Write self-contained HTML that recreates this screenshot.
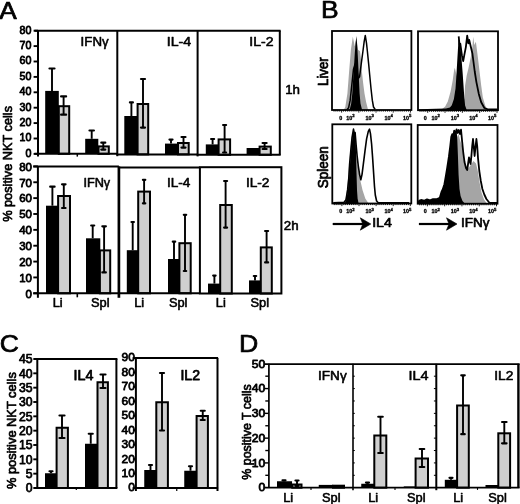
<!DOCTYPE html>
<html lang="en">
<head>
<meta charset="utf-8">
<title>Figure</title>
<style>
html,body{margin:0;padding:0;background:#fff;}
body{width:520px;height:504px;overflow:hidden;}
svg{display:block;}
svg text{font-family:"Liberation Sans",sans-serif;fill:#000;stroke-linejoin:round;}
</style>
</head>
<body>
<svg width="520" height="504" viewBox="0 0 520 504">
<rect x="0" y="0" width="520" height="504" fill="#fff"/>
<text transform="translate(-0.8 18.8) scale(1.07 1)" font-size="24.5" text-anchor="start" font-weight="normal" stroke="#000" stroke-width="0.7">A</text>
<text transform="translate(321.1 17.6) scale(1.08 1)" font-size="24.5" text-anchor="start" font-weight="normal" stroke="#000" stroke-width="0.7">B</text>
<text transform="translate(-0.3 352) scale(1.08 1)" font-size="24.5" text-anchor="start" font-weight="normal" stroke="#000" stroke-width="0.7">C</text>
<text transform="translate(239.0 351.5) scale(1.09 1)" font-size="24.5" text-anchor="start" font-weight="normal" stroke="#000" stroke-width="0.7">D</text>
<rect x="45.20" y="90.90" width="13.60" height="62.90" fill="#000"/>
<line x1="52.00" y1="90.90" x2="52.00" y2="68.50" stroke="#000" stroke-width="1.9"/>
<line x1="49.50" y1="68.50" x2="54.50" y2="68.50" stroke="#000" stroke-width="2.2" stroke-linecap="round"/>
<rect x="58.80" y="106.20" width="10.40" height="47.60" fill="#cfcfcf" stroke="#000" stroke-width="2.0"/>
<line x1="63.60" y1="96.40" x2="63.60" y2="114.70" stroke="#000" stroke-width="1.9"/>
<line x1="61.10" y1="96.40" x2="66.10" y2="96.40" stroke="#000" stroke-width="2.2" stroke-linecap="round"/>
<line x1="61.10" y1="114.70" x2="66.10" y2="114.70" stroke="#000" stroke-width="2.2" stroke-linecap="round"/>
<rect x="85.20" y="138.80" width="13.10" height="15.00" fill="#000"/>
<line x1="91.70" y1="138.80" x2="91.70" y2="130.50" stroke="#000" stroke-width="1.9"/>
<line x1="89.50" y1="130.50" x2="93.90" y2="130.50" stroke="#000" stroke-width="2.2" stroke-linecap="round"/>
<rect x="98.50" y="146.40" width="10.30" height="7.40" fill="#cfcfcf" stroke="#000" stroke-width="2.0"/>
<line x1="103.30" y1="142.70" x2="103.30" y2="149.60" stroke="#000" stroke-width="1.9"/>
<line x1="101.30" y1="142.70" x2="105.30" y2="142.70" stroke="#000" stroke-width="2.2" stroke-linecap="round"/>
<line x1="101.30" y1="149.60" x2="105.30" y2="149.60" stroke="#000" stroke-width="2.2" stroke-linecap="round"/>
<rect x="124.30" y="116.00" width="13.50" height="38.40" fill="#000"/>
<line x1="131.40" y1="116.00" x2="131.40" y2="102.40" stroke="#000" stroke-width="1.9"/>
<line x1="129.90" y1="102.40" x2="132.90" y2="102.40" stroke="#000" stroke-width="2.2" stroke-linecap="round"/>
<rect x="137.60" y="104.00" width="10.60" height="50.40" fill="#cfcfcf" stroke="#000" stroke-width="2.0"/>
<line x1="143.00" y1="79.00" x2="143.00" y2="127.60" stroke="#000" stroke-width="1.9"/>
<line x1="141.00" y1="79.00" x2="145.00" y2="79.00" stroke="#000" stroke-width="2.2" stroke-linecap="round"/>
<line x1="141.00" y1="127.60" x2="145.00" y2="127.60" stroke="#000" stroke-width="2.2" stroke-linecap="round"/>
<rect x="165.00" y="143.60" width="13.20" height="10.80" fill="#000"/>
<line x1="171.00" y1="143.60" x2="171.00" y2="139.60" stroke="#000" stroke-width="1.9"/>
<line x1="169.50" y1="139.60" x2="172.50" y2="139.60" stroke="#000" stroke-width="2.2" stroke-linecap="round"/>
<rect x="178.00" y="143.00" width="10.70" height="11.40" fill="#cfcfcf" stroke="#000" stroke-width="2.0"/>
<line x1="183.50" y1="137.00" x2="183.50" y2="147.60" stroke="#000" stroke-width="1.9"/>
<line x1="181.50" y1="137.00" x2="185.50" y2="137.00" stroke="#000" stroke-width="2.2" stroke-linecap="round"/>
<line x1="181.50" y1="147.60" x2="185.50" y2="147.60" stroke="#000" stroke-width="2.2" stroke-linecap="round"/>
<rect x="205.80" y="144.40" width="13.00" height="10.40" fill="#000"/>
<line x1="212.60" y1="144.40" x2="212.60" y2="139.00" stroke="#000" stroke-width="1.9"/>
<line x1="211.10" y1="139.00" x2="214.10" y2="139.00" stroke="#000" stroke-width="2.2" stroke-linecap="round"/>
<rect x="218.60" y="139.40" width="11.50" height="15.40" fill="#cfcfcf" stroke="#000" stroke-width="2.0"/>
<line x1="224.60" y1="125.00" x2="224.60" y2="152.50" stroke="#000" stroke-width="1.9"/>
<line x1="223.10" y1="125.00" x2="226.10" y2="125.00" stroke="#000" stroke-width="2.2" stroke-linecap="round"/>
<line x1="223.10" y1="152.50" x2="226.10" y2="152.50" stroke="#000" stroke-width="2.2" stroke-linecap="round"/>
<rect x="246.60" y="148.00" width="13.20" height="6.80" fill="#000"/>
<rect x="259.60" y="146.60" width="11.20" height="8.20" fill="#cfcfcf" stroke="#000" stroke-width="2.0"/>
<line x1="264.60" y1="143.00" x2="264.60" y2="149.00" stroke="#000" stroke-width="1.9"/>
<line x1="262.60" y1="143.00" x2="266.60" y2="143.00" stroke="#000" stroke-width="2.2" stroke-linecap="round"/>
<line x1="262.60" y1="149.00" x2="266.60" y2="149.00" stroke="#000" stroke-width="2.2" stroke-linecap="round"/>
<line x1="34.50" y1="30.70" x2="280.60" y2="30.70" stroke="#000" stroke-width="2.0"/>
<line x1="34.50" y1="153.80" x2="117.30" y2="153.80" stroke="#000" stroke-width="2.0"/>
<line x1="116.40" y1="154.40" x2="197.60" y2="154.40" stroke="#000" stroke-width="2.0"/>
<line x1="196.70" y1="154.80" x2="280.70" y2="154.80" stroke="#000" stroke-width="2.0"/>
<line x1="38.00" y1="30.70" x2="38.00" y2="156.40" stroke="#000" stroke-width="2.0"/>
<line x1="117.30" y1="30.70" x2="117.30" y2="156.20" stroke="#000" stroke-width="2.0"/>
<line x1="197.60" y1="30.70" x2="197.60" y2="156.40" stroke="#000" stroke-width="2.0"/>
<line x1="279.80" y1="30.70" x2="279.80" y2="154.80" stroke="#000" stroke-width="2.0"/>
<line x1="77.30" y1="153.80" x2="77.30" y2="156.60" stroke="#000" stroke-width="1.5"/>
<text transform="translate(31.5 33.5) scale(1.07 1)" font-size="9.999999999999998" text-anchor="end" font-weight="normal" stroke="#000" stroke-width="0.75">80</text>
<line x1="33.60" y1="30.70" x2="38.00" y2="30.70" stroke="#000" stroke-width="1.9"/>
<text transform="translate(31.5 48.9) scale(1.07 1)" font-size="9.999999999999998" text-anchor="end" font-weight="normal" stroke="#000" stroke-width="0.75">70</text>
<line x1="33.60" y1="46.10" x2="38.00" y2="46.10" stroke="#000" stroke-width="1.9"/>
<text transform="translate(31.5 64.3) scale(1.07 1)" font-size="9.999999999999998" text-anchor="end" font-weight="normal" stroke="#000" stroke-width="0.75">60</text>
<line x1="33.60" y1="61.50" x2="38.00" y2="61.50" stroke="#000" stroke-width="1.9"/>
<text transform="translate(31.5 79.7) scale(1.07 1)" font-size="9.999999999999998" text-anchor="end" font-weight="normal" stroke="#000" stroke-width="0.75">50</text>
<line x1="33.60" y1="76.90" x2="38.00" y2="76.90" stroke="#000" stroke-width="1.9"/>
<text transform="translate(31.5 95.1) scale(1.07 1)" font-size="9.999999999999998" text-anchor="end" font-weight="normal" stroke="#000" stroke-width="0.75">40</text>
<line x1="33.60" y1="92.30" x2="38.00" y2="92.30" stroke="#000" stroke-width="1.9"/>
<text transform="translate(31.5 110.5) scale(1.07 1)" font-size="9.999999999999998" text-anchor="end" font-weight="normal" stroke="#000" stroke-width="0.75">30</text>
<line x1="33.60" y1="107.70" x2="38.00" y2="107.70" stroke="#000" stroke-width="1.9"/>
<text transform="translate(31.5 125.9) scale(1.07 1)" font-size="9.999999999999998" text-anchor="end" font-weight="normal" stroke="#000" stroke-width="0.75">20</text>
<line x1="33.60" y1="123.10" x2="38.00" y2="123.10" stroke="#000" stroke-width="1.9"/>
<text transform="translate(31.5 141.3) scale(1.07 1)" font-size="9.999999999999998" text-anchor="end" font-weight="normal" stroke="#000" stroke-width="0.75">10</text>
<line x1="33.60" y1="138.50" x2="38.00" y2="138.50" stroke="#000" stroke-width="1.9"/>
<text transform="translate(31.5 156.70000000000002) scale(1.07 1)" font-size="9.999999999999998" text-anchor="end" font-weight="normal" stroke="#000" stroke-width="0.75">0</text>
<line x1="33.60" y1="153.90" x2="38.00" y2="153.90" stroke="#000" stroke-width="1.9"/>
<text x="80.6" y="46" font-size="12.5" textLength="28.00" lengthAdjust="spacingAndGlyphs" stroke="#000" stroke-width="0.55">IFNγ</text>
<text x="166.8" y="46" font-size="12.5" textLength="24.40" lengthAdjust="spacingAndGlyphs" stroke="#000" stroke-width="0.55">IL-4</text>
<text x="249.3" y="46" font-size="12.5" textLength="24.20" lengthAdjust="spacingAndGlyphs" stroke="#000" stroke-width="0.55">IL-2</text>
<text x="285.2" y="93.5" font-size="12.5" textLength="14.80" lengthAdjust="spacingAndGlyphs" stroke="#000" stroke-width="0.55">1h</text>
<rect x="46.00" y="205.70" width="12.80" height="87.60" fill="#000"/>
<line x1="52.40" y1="205.70" x2="52.40" y2="186.70" stroke="#000" stroke-width="1.9"/>
<line x1="50.20" y1="186.70" x2="54.60" y2="186.70" stroke="#000" stroke-width="2.2" stroke-linecap="round"/>
<rect x="58.10" y="196.00" width="11.90" height="97.30" fill="#cfcfcf" stroke="#000" stroke-width="2.0"/>
<line x1="63.80" y1="184.30" x2="63.80" y2="208.00" stroke="#000" stroke-width="1.9"/>
<line x1="62.05" y1="184.30" x2="65.55" y2="184.30" stroke="#000" stroke-width="2.2" stroke-linecap="round"/>
<line x1="62.05" y1="208.00" x2="65.55" y2="208.00" stroke="#000" stroke-width="2.2" stroke-linecap="round"/>
<rect x="86.00" y="238.30" width="14.30" height="55.00" fill="#000"/>
<line x1="92.70" y1="238.30" x2="92.70" y2="225.50" stroke="#000" stroke-width="1.9"/>
<line x1="91.20" y1="225.50" x2="94.20" y2="225.50" stroke="#000" stroke-width="2.2" stroke-linecap="round"/>
<rect x="99.90" y="250.40" width="10.30" height="42.90" fill="#cfcfcf" stroke="#000" stroke-width="2.0"/>
<line x1="104.10" y1="226.30" x2="104.10" y2="272.40" stroke="#000" stroke-width="1.9"/>
<line x1="102.35" y1="226.30" x2="105.85" y2="226.30" stroke="#000" stroke-width="2.2" stroke-linecap="round"/>
<line x1="102.35" y1="272.40" x2="105.85" y2="272.40" stroke="#000" stroke-width="2.2" stroke-linecap="round"/>
<rect x="126.80" y="250.20" width="12.50" height="43.10" fill="#000"/>
<line x1="132.70" y1="250.20" x2="132.70" y2="222.00" stroke="#000" stroke-width="1.9"/>
<line x1="131.50" y1="222.00" x2="133.90" y2="222.00" stroke="#000" stroke-width="2.2" stroke-linecap="round"/>
<rect x="138.20" y="191.60" width="11.80" height="101.70" fill="#cfcfcf" stroke="#000" stroke-width="2.0"/>
<line x1="144.10" y1="179.80" x2="144.10" y2="203.30" stroke="#000" stroke-width="1.9"/>
<line x1="142.90" y1="179.80" x2="145.30" y2="179.80" stroke="#000" stroke-width="2.2" stroke-linecap="round"/>
<line x1="142.90" y1="203.30" x2="145.30" y2="203.30" stroke="#000" stroke-width="2.2" stroke-linecap="round"/>
<rect x="168.00" y="259.00" width="12.40" height="34.30" fill="#000"/>
<line x1="174.00" y1="259.00" x2="174.00" y2="241.70" stroke="#000" stroke-width="1.9"/>
<line x1="172.80" y1="241.70" x2="175.20" y2="241.70" stroke="#000" stroke-width="2.2" stroke-linecap="round"/>
<rect x="179.40" y="243.20" width="11.30" height="50.10" fill="#cfcfcf" stroke="#000" stroke-width="2.0"/>
<line x1="185.00" y1="214.80" x2="185.00" y2="271.00" stroke="#000" stroke-width="1.9"/>
<line x1="183.80" y1="214.80" x2="186.20" y2="214.80" stroke="#000" stroke-width="2.2" stroke-linecap="round"/>
<line x1="183.80" y1="271.00" x2="186.20" y2="271.00" stroke="#000" stroke-width="2.2" stroke-linecap="round"/>
<rect x="208.00" y="283.60" width="12.80" height="9.90" fill="#000"/>
<line x1="214.40" y1="283.60" x2="214.40" y2="275.60" stroke="#000" stroke-width="1.9"/>
<line x1="213.20" y1="275.60" x2="215.60" y2="275.60" stroke="#000" stroke-width="2.2" stroke-linecap="round"/>
<rect x="220.20" y="205.00" width="11.60" height="88.50" fill="#cfcfcf" stroke="#000" stroke-width="2.0"/>
<line x1="225.60" y1="181.00" x2="225.60" y2="227.60" stroke="#000" stroke-width="1.9"/>
<line x1="224.10" y1="181.00" x2="227.10" y2="181.00" stroke="#000" stroke-width="2.2" stroke-linecap="round"/>
<line x1="224.10" y1="227.60" x2="227.10" y2="227.60" stroke="#000" stroke-width="2.2" stroke-linecap="round"/>
<rect x="249.00" y="280.40" width="12.80" height="13.10" fill="#000"/>
<line x1="255.00" y1="280.40" x2="255.00" y2="276.00" stroke="#000" stroke-width="1.9"/>
<line x1="253.80" y1="276.00" x2="256.20" y2="276.00" stroke="#000" stroke-width="2.2" stroke-linecap="round"/>
<rect x="260.80" y="247.40" width="11.00" height="46.10" fill="#cfcfcf" stroke="#000" stroke-width="2.0"/>
<line x1="266.60" y1="231.00" x2="266.60" y2="262.40" stroke="#000" stroke-width="1.9"/>
<line x1="265.10" y1="231.00" x2="268.10" y2="231.00" stroke="#000" stroke-width="2.2" stroke-linecap="round"/>
<line x1="265.10" y1="262.40" x2="268.10" y2="262.40" stroke="#000" stroke-width="2.2" stroke-linecap="round"/>
<line x1="33.30" y1="166.40" x2="118.90" y2="166.40" stroke="#000" stroke-width="2.0"/>
<line x1="118.90" y1="167.60" x2="199.40" y2="167.60" stroke="#000" stroke-width="2.0"/>
<line x1="33.30" y1="293.30" x2="199.40" y2="293.30" stroke="#000" stroke-width="2.0"/>
<line x1="37.90" y1="166.40" x2="37.90" y2="297.80" stroke="#000" stroke-width="2.0"/>
<line x1="118.90" y1="166.40" x2="118.90" y2="297.80" stroke="#000" stroke-width="2.7"/>
<line x1="77.30" y1="293.30" x2="77.30" y2="297.30" stroke="#000" stroke-width="1.6"/>
<rect x="199.9" y="167.2" width="81.49999999999997" height="126.30000000000001" fill="none" stroke="#000" stroke-width="2"/>
<text transform="translate(32.0 170.70000000000002) scale(1.07 1)" font-size="10.74766355140187" text-anchor="end" font-weight="normal" stroke="#000" stroke-width="0.75">80</text>
<line x1="33.30" y1="166.40" x2="37.90" y2="166.40" stroke="#000" stroke-width="1.9"/>
<text transform="translate(32.0 186.56250000000003) scale(1.07 1)" font-size="10.74766355140187" text-anchor="end" font-weight="normal" stroke="#000" stroke-width="0.75">70</text>
<line x1="33.30" y1="182.26" x2="37.90" y2="182.26" stroke="#000" stroke-width="1.9"/>
<text transform="translate(32.0 202.425) scale(1.07 1)" font-size="10.74766355140187" text-anchor="end" font-weight="normal" stroke="#000" stroke-width="0.75">60</text>
<line x1="33.30" y1="198.12" x2="37.90" y2="198.12" stroke="#000" stroke-width="1.9"/>
<text transform="translate(32.0 218.28750000000002) scale(1.07 1)" font-size="10.74766355140187" text-anchor="end" font-weight="normal" stroke="#000" stroke-width="0.75">50</text>
<line x1="33.30" y1="213.99" x2="37.90" y2="213.99" stroke="#000" stroke-width="1.9"/>
<text transform="translate(32.0 234.15000000000003) scale(1.07 1)" font-size="10.74766355140187" text-anchor="end" font-weight="normal" stroke="#000" stroke-width="0.75">40</text>
<line x1="33.30" y1="229.85" x2="37.90" y2="229.85" stroke="#000" stroke-width="1.9"/>
<text transform="translate(32.0 250.01250000000002) scale(1.07 1)" font-size="10.74766355140187" text-anchor="end" font-weight="normal" stroke="#000" stroke-width="0.75">30</text>
<line x1="33.30" y1="245.71" x2="37.90" y2="245.71" stroke="#000" stroke-width="1.9"/>
<text transform="translate(32.0 265.87500000000006) scale(1.07 1)" font-size="10.74766355140187" text-anchor="end" font-weight="normal" stroke="#000" stroke-width="0.75">20</text>
<line x1="33.30" y1="261.58" x2="37.90" y2="261.58" stroke="#000" stroke-width="1.9"/>
<text transform="translate(32.0 281.7375) scale(1.07 1)" font-size="10.74766355140187" text-anchor="end" font-weight="normal" stroke="#000" stroke-width="0.75">10</text>
<line x1="33.30" y1="277.44" x2="37.90" y2="277.44" stroke="#000" stroke-width="1.9"/>
<text transform="translate(32.0 297.6) scale(1.07 1)" font-size="10.74766355140187" text-anchor="end" font-weight="normal" stroke="#000" stroke-width="0.75">0</text>
<line x1="33.30" y1="293.30" x2="37.90" y2="293.30" stroke="#000" stroke-width="1.9"/>
<text x="83.4" y="187.3" font-size="12.5" textLength="26.80" lengthAdjust="spacingAndGlyphs" stroke="#000" stroke-width="0.55">IFNγ</text>
<text x="166.9" y="187.2" font-size="12.5" textLength="23.40" lengthAdjust="spacingAndGlyphs" stroke="#000" stroke-width="0.55">IL-4</text>
<text x="245.9" y="187.3" font-size="12.5" textLength="23.60" lengthAdjust="spacingAndGlyphs" stroke="#000" stroke-width="0.55">IL-2</text>
<text x="283.8" y="230.4" font-size="12.5" textLength="14.80" lengthAdjust="spacingAndGlyphs" stroke="#000" stroke-width="0.55">2h</text>
<text transform="translate(57.7 306.8) scale(1.07 1)" font-size="12.0" text-anchor="middle" font-weight="normal" stroke="#000" stroke-width="0.55">Li</text>
<text transform="translate(100.3 306.8) scale(1.07 1)" font-size="12.0" text-anchor="middle" font-weight="normal" stroke="#000" stroke-width="0.55">Spl</text>
<text transform="translate(139.2 306.8) scale(1.07 1)" font-size="12.0" text-anchor="middle" font-weight="normal" stroke="#000" stroke-width="0.55">Li</text>
<text transform="translate(178.2 306.8) scale(1.07 1)" font-size="12.0" text-anchor="middle" font-weight="normal" stroke="#000" stroke-width="0.55">Spl</text>
<text transform="translate(220.8 306.8) scale(1.07 1)" font-size="12.0" text-anchor="middle" font-weight="normal" stroke="#000" stroke-width="0.55">Li</text>
<text transform="translate(259.8 306.8) scale(1.07 1)" font-size="12.0" text-anchor="middle" font-weight="normal" stroke="#000" stroke-width="0.55">Spl</text>
<text transform="translate(11.9 163.9) rotate(-90) scale(1 1.06)" font-size="12.75" text-anchor="middle" font-weight="normal" stroke="#000" stroke-width="0.65">% positive NKT cells</text>
<polygon points="343.7,110.0 345.3,107.0 347.4,93.5 349.1,71.7 350.9,49.8 352.8,36.7 354.8,46.5 356.1,39.7 358.0,49.8 360.0,51.2 360.9,58.2 361.9,71.7 363.2,83.4 364.5,93.5 366.1,101.9 368.1,110.0" fill="#a5a5a5"/>
<polygon points="349.6,110.0 351.2,103.6 352.3,93.5 353.1,80.1 354.0,66.6 354.8,53.2 355.6,43.1 356.4,36.0 357.2,44.8 358.0,59.9 358.8,76.7 359.6,93.5 360.5,103.6 362.1,110.0" fill="#000"/>
<polyline points="347.0,109.7 348.6,107.8 350.2,100.2 351.8,85.1 353.5,69.2 355.1,63.9 356.4,65.6 358.0,78.7 359.6,76.7 361.3,63.3 362.9,51.5 364.2,41.4 365.3,35.5 366.5,43.1 367.4,51.5 368.6,63.3 369.7,75.0 371.0,88.5 372.3,100.2 373.5,107.0 375.1,109.3" fill="none" stroke="#000" stroke-width="1.5" stroke-linejoin="round"/>
<rect x="332" y="31" width="79.39999999999998" height="79" fill="none" stroke="#000" stroke-width="1.8"/>
<line x1="334.00" y1="110.00" x2="334.00" y2="111.60" stroke="#000" stroke-width="0.9"/>
<line x1="335.91" y1="110.00" x2="335.91" y2="111.60" stroke="#000" stroke-width="0.9"/>
<line x1="337.82" y1="110.00" x2="337.82" y2="111.60" stroke="#000" stroke-width="0.9"/>
<line x1="339.73" y1="110.00" x2="339.73" y2="111.60" stroke="#000" stroke-width="0.9"/>
<line x1="341.64" y1="110.00" x2="341.64" y2="112.60" stroke="#000" stroke-width="0.9"/>
<line x1="343.55" y1="110.00" x2="343.55" y2="111.60" stroke="#000" stroke-width="0.9"/>
<line x1="345.46" y1="110.00" x2="345.46" y2="111.60" stroke="#000" stroke-width="0.9"/>
<line x1="347.37" y1="110.00" x2="347.37" y2="111.60" stroke="#000" stroke-width="0.9"/>
<line x1="349.28" y1="110.00" x2="349.28" y2="111.60" stroke="#000" stroke-width="0.9"/>
<line x1="351.19" y1="110.00" x2="351.19" y2="111.60" stroke="#000" stroke-width="0.9"/>
<line x1="353.10" y1="110.00" x2="353.10" y2="111.60" stroke="#000" stroke-width="0.9"/>
<line x1="355.01" y1="110.00" x2="355.01" y2="111.60" stroke="#000" stroke-width="0.9"/>
<line x1="356.92" y1="110.00" x2="356.92" y2="111.60" stroke="#000" stroke-width="0.9"/>
<line x1="358.83" y1="110.00" x2="358.83" y2="112.60" stroke="#000" stroke-width="0.9"/>
<line x1="360.74" y1="110.00" x2="360.74" y2="111.60" stroke="#000" stroke-width="0.9"/>
<line x1="362.65" y1="110.00" x2="362.65" y2="111.60" stroke="#000" stroke-width="0.9"/>
<line x1="364.56" y1="110.00" x2="364.56" y2="111.60" stroke="#000" stroke-width="0.9"/>
<line x1="366.47" y1="110.00" x2="366.47" y2="111.60" stroke="#000" stroke-width="0.9"/>
<line x1="368.38" y1="110.00" x2="368.38" y2="111.60" stroke="#000" stroke-width="0.9"/>
<line x1="370.29" y1="110.00" x2="370.29" y2="111.60" stroke="#000" stroke-width="0.9"/>
<line x1="372.20" y1="110.00" x2="372.20" y2="111.60" stroke="#000" stroke-width="0.9"/>
<line x1="374.11" y1="110.00" x2="374.11" y2="111.60" stroke="#000" stroke-width="0.9"/>
<line x1="376.02" y1="110.00" x2="376.02" y2="112.60" stroke="#000" stroke-width="0.9"/>
<line x1="377.93" y1="110.00" x2="377.93" y2="111.60" stroke="#000" stroke-width="0.9"/>
<line x1="379.84" y1="110.00" x2="379.84" y2="111.60" stroke="#000" stroke-width="0.9"/>
<line x1="381.75" y1="110.00" x2="381.75" y2="111.60" stroke="#000" stroke-width="0.9"/>
<line x1="383.66" y1="110.00" x2="383.66" y2="111.60" stroke="#000" stroke-width="0.9"/>
<line x1="385.57" y1="110.00" x2="385.57" y2="111.60" stroke="#000" stroke-width="0.9"/>
<line x1="387.48" y1="110.00" x2="387.48" y2="111.60" stroke="#000" stroke-width="0.9"/>
<line x1="389.39" y1="110.00" x2="389.39" y2="111.60" stroke="#000" stroke-width="0.9"/>
<line x1="391.30" y1="110.00" x2="391.30" y2="111.60" stroke="#000" stroke-width="0.9"/>
<line x1="393.21" y1="110.00" x2="393.21" y2="112.60" stroke="#000" stroke-width="0.9"/>
<line x1="395.12" y1="110.00" x2="395.12" y2="111.60" stroke="#000" stroke-width="0.9"/>
<line x1="397.03" y1="110.00" x2="397.03" y2="111.60" stroke="#000" stroke-width="0.9"/>
<line x1="398.94" y1="110.00" x2="398.94" y2="111.60" stroke="#000" stroke-width="0.9"/>
<line x1="400.85" y1="110.00" x2="400.85" y2="111.60" stroke="#000" stroke-width="0.9"/>
<line x1="402.76" y1="110.00" x2="402.76" y2="111.60" stroke="#000" stroke-width="0.9"/>
<line x1="404.67" y1="110.00" x2="404.67" y2="111.60" stroke="#000" stroke-width="0.9"/>
<line x1="406.58" y1="110.00" x2="406.58" y2="111.60" stroke="#000" stroke-width="0.9"/>
<line x1="408.49" y1="110.00" x2="408.49" y2="111.60" stroke="#000" stroke-width="0.9"/>
<line x1="410.40" y1="110.00" x2="410.40" y2="112.60" stroke="#000" stroke-width="0.9"/>
<text x="340.8" y="119.60" font-size="5.4" text-anchor="middle" font-weight="bold" stroke="#000" stroke-width="0.3">0</text>
<text x="350.4" y="119.60" font-size="5.4" text-anchor="middle" font-weight="bold" stroke="#000" stroke-width="0.3">10<tspan dy="-2.4" font-size="4.3">2</tspan></text>
<text x="369.59999999999997" y="119.60" font-size="5.4" text-anchor="middle" font-weight="bold" stroke="#000" stroke-width="0.3">10<tspan dy="-2.4" font-size="4.3">3</tspan></text>
<text x="388.7" y="119.60" font-size="5.4" text-anchor="middle" font-weight="bold" stroke="#000" stroke-width="0.3">10<tspan dy="-2.4" font-size="4.3">4</tspan></text>
<text x="407.2" y="119.60" font-size="5.4" text-anchor="middle" font-weight="bold" stroke="#000" stroke-width="0.3">10<tspan dy="-2.4" font-size="4.3">5</tspan></text>
<polygon points="439.0,110.0 442.5,108.8 445.2,106.6 447.8,101.5 450.6,91.5 452.7,80.4 454.1,70.3 454.8,67.8 455.8,72.0 457.9,80.4 464.3,99.5 465.1,85.5 466.7,75.4 468.4,68.6 470.8,56.9 472.4,46.8 473.2,36.7 474.3,45.1 475.9,41.7 478.0,58.5 479.6,72.0 481.2,85.5 482.8,97.2 485.2,105.6 487.6,110.0" fill="#a5a5a5"/>
<polygon points="419.0,110.0 419.0,109.2 436.0,108.8 446.0,108.5 449.9,107.5 451.8,105.2 453.9,99.0 455.5,88.8 456.3,77.0 457.1,63.6 457.9,50.1 458.7,36.2 459.5,45.1 460.3,43.4 461.1,53.5 461.9,63.6 462.7,73.7 463.5,85.5 464.3,97.2 465.1,105.6 466.7,110.0" fill="#000"/>
<polyline points="458.7,36.4 459.5,44.8 460.3,43.7 461.9,55.2 463.2,61.1 464.3,55.2 465.9,46.8 467.2,35.6 468.4,43.4 469.2,40.0 470.8,46.8 472.4,53.5 474.8,72.0 476.4,82.1 478.8,93.9 481.2,102.3 484.4,108.0 488.4,109.5 497.0,109.5" fill="none" stroke="#000" stroke-width="1.8" stroke-linejoin="round"/>
<rect x="418" y="31.3" width="80" height="78.9" fill="none" stroke="#000" stroke-width="1.8"/>
<line x1="420.00" y1="110.20" x2="420.00" y2="111.80" stroke="#000" stroke-width="0.9"/>
<line x1="421.93" y1="110.20" x2="421.93" y2="111.80" stroke="#000" stroke-width="0.9"/>
<line x1="423.85" y1="110.20" x2="423.85" y2="111.80" stroke="#000" stroke-width="0.9"/>
<line x1="425.77" y1="110.20" x2="425.77" y2="111.80" stroke="#000" stroke-width="0.9"/>
<line x1="427.70" y1="110.20" x2="427.70" y2="112.80" stroke="#000" stroke-width="0.9"/>
<line x1="429.62" y1="110.20" x2="429.62" y2="111.80" stroke="#000" stroke-width="0.9"/>
<line x1="431.55" y1="110.20" x2="431.55" y2="111.80" stroke="#000" stroke-width="0.9"/>
<line x1="433.48" y1="110.20" x2="433.48" y2="111.80" stroke="#000" stroke-width="0.9"/>
<line x1="435.40" y1="110.20" x2="435.40" y2="111.80" stroke="#000" stroke-width="0.9"/>
<line x1="437.32" y1="110.20" x2="437.32" y2="111.80" stroke="#000" stroke-width="0.9"/>
<line x1="439.25" y1="110.20" x2="439.25" y2="111.80" stroke="#000" stroke-width="0.9"/>
<line x1="441.18" y1="110.20" x2="441.18" y2="111.80" stroke="#000" stroke-width="0.9"/>
<line x1="443.10" y1="110.20" x2="443.10" y2="111.80" stroke="#000" stroke-width="0.9"/>
<line x1="445.02" y1="110.20" x2="445.02" y2="112.80" stroke="#000" stroke-width="0.9"/>
<line x1="446.95" y1="110.20" x2="446.95" y2="111.80" stroke="#000" stroke-width="0.9"/>
<line x1="448.88" y1="110.20" x2="448.88" y2="111.80" stroke="#000" stroke-width="0.9"/>
<line x1="450.80" y1="110.20" x2="450.80" y2="111.80" stroke="#000" stroke-width="0.9"/>
<line x1="452.73" y1="110.20" x2="452.73" y2="111.80" stroke="#000" stroke-width="0.9"/>
<line x1="454.65" y1="110.20" x2="454.65" y2="111.80" stroke="#000" stroke-width="0.9"/>
<line x1="456.57" y1="110.20" x2="456.57" y2="111.80" stroke="#000" stroke-width="0.9"/>
<line x1="458.50" y1="110.20" x2="458.50" y2="111.80" stroke="#000" stroke-width="0.9"/>
<line x1="460.43" y1="110.20" x2="460.43" y2="111.80" stroke="#000" stroke-width="0.9"/>
<line x1="462.35" y1="110.20" x2="462.35" y2="112.80" stroke="#000" stroke-width="0.9"/>
<line x1="464.27" y1="110.20" x2="464.27" y2="111.80" stroke="#000" stroke-width="0.9"/>
<line x1="466.20" y1="110.20" x2="466.20" y2="111.80" stroke="#000" stroke-width="0.9"/>
<line x1="468.12" y1="110.20" x2="468.12" y2="111.80" stroke="#000" stroke-width="0.9"/>
<line x1="470.05" y1="110.20" x2="470.05" y2="111.80" stroke="#000" stroke-width="0.9"/>
<line x1="471.98" y1="110.20" x2="471.98" y2="111.80" stroke="#000" stroke-width="0.9"/>
<line x1="473.90" y1="110.20" x2="473.90" y2="111.80" stroke="#000" stroke-width="0.9"/>
<line x1="475.82" y1="110.20" x2="475.82" y2="111.80" stroke="#000" stroke-width="0.9"/>
<line x1="477.75" y1="110.20" x2="477.75" y2="111.80" stroke="#000" stroke-width="0.9"/>
<line x1="479.68" y1="110.20" x2="479.68" y2="112.80" stroke="#000" stroke-width="0.9"/>
<line x1="481.60" y1="110.20" x2="481.60" y2="111.80" stroke="#000" stroke-width="0.9"/>
<line x1="483.52" y1="110.20" x2="483.52" y2="111.80" stroke="#000" stroke-width="0.9"/>
<line x1="485.45" y1="110.20" x2="485.45" y2="111.80" stroke="#000" stroke-width="0.9"/>
<line x1="487.38" y1="110.20" x2="487.38" y2="111.80" stroke="#000" stroke-width="0.9"/>
<line x1="489.30" y1="110.20" x2="489.30" y2="111.80" stroke="#000" stroke-width="0.9"/>
<line x1="491.23" y1="110.20" x2="491.23" y2="111.80" stroke="#000" stroke-width="0.9"/>
<line x1="493.15" y1="110.20" x2="493.15" y2="111.80" stroke="#000" stroke-width="0.9"/>
<line x1="495.07" y1="110.20" x2="495.07" y2="111.80" stroke="#000" stroke-width="0.9"/>
<line x1="497.00" y1="110.20" x2="497.00" y2="112.80" stroke="#000" stroke-width="0.9"/>
<text x="425.2" y="119.80" font-size="5.4" text-anchor="middle" font-weight="bold" stroke="#000" stroke-width="0.3">0</text>
<text x="435.59999999999997" y="119.80" font-size="5.4" text-anchor="middle" font-weight="bold" stroke="#000" stroke-width="0.3">10<tspan dy="-2.4" font-size="4.3">2</tspan></text>
<text x="454.9" y="119.80" font-size="5.4" text-anchor="middle" font-weight="bold" stroke="#000" stroke-width="0.3">10<tspan dy="-2.4" font-size="4.3">3</tspan></text>
<text x="473.5" y="119.80" font-size="5.4" text-anchor="middle" font-weight="bold" stroke="#000" stroke-width="0.3">10<tspan dy="-2.4" font-size="4.3">4</tspan></text>
<text x="492.29999999999995" y="119.80" font-size="5.4" text-anchor="middle" font-weight="bold" stroke="#000" stroke-width="0.3">10<tspan dy="-2.4" font-size="4.3">5</tspan></text>
<polygon points="343.6,203.5 345.5,199.3 347.0,189.9 348.1,178.0 349.1,164.4 350.3,150.8 351.6,138.1 353.3,130.4 355.0,138.9 355.8,147.4 357.5,164.4 360.0,178.9 362.5,189.9 365.3,198.4 368.6,203.5" fill="#a5a5a5"/>
<polygon points="344.6,203.5 346.3,200.1 348.0,189.9 349.1,178.0 350.0,164.4 351.1,150.8 352.5,137.2 353.8,129.1 354.6,134.7 355.3,133.0 355.8,144.0 356.1,155.9 356.5,172.9 357.0,189.9 357.6,198.4 358.6,203.5" fill="#000"/>
<polyline points="333.3,202.7 344.1,202.3 346.0,199.8 347.6,189.9 348.8,178.0 349.6,164.4 350.8,150.8 352.1,137.2 353.5,129.1 354.5,134.7 355.1,132.5 356.1,144.9 357.1,155.9 358.3,166.1 359.6,174.6 360.8,179.7 362.0,174.6 363.3,164.4 365.0,150.8 366.6,138.9 368.3,131.3 369.5,129.1 370.5,133.8 371.6,144.0 372.6,157.6 373.6,172.9 374.5,186.5 375.3,195.0 376.6,201.0 378.3,202.7 409.1,202.7" fill="none" stroke="#000" stroke-width="1.6" stroke-linejoin="round"/>
<rect x="332.3" y="124.3" width="79.0" height="79.2" fill="none" stroke="#000" stroke-width="1.8"/>
<line x1="334.30" y1="203.50" x2="334.30" y2="205.10" stroke="#000" stroke-width="0.9"/>
<line x1="336.20" y1="203.50" x2="336.20" y2="205.10" stroke="#000" stroke-width="0.9"/>
<line x1="338.10" y1="203.50" x2="338.10" y2="205.10" stroke="#000" stroke-width="0.9"/>
<line x1="340.00" y1="203.50" x2="340.00" y2="205.10" stroke="#000" stroke-width="0.9"/>
<line x1="341.90" y1="203.50" x2="341.90" y2="206.10" stroke="#000" stroke-width="0.9"/>
<line x1="343.80" y1="203.50" x2="343.80" y2="205.10" stroke="#000" stroke-width="0.9"/>
<line x1="345.70" y1="203.50" x2="345.70" y2="205.10" stroke="#000" stroke-width="0.9"/>
<line x1="347.60" y1="203.50" x2="347.60" y2="205.10" stroke="#000" stroke-width="0.9"/>
<line x1="349.50" y1="203.50" x2="349.50" y2="205.10" stroke="#000" stroke-width="0.9"/>
<line x1="351.40" y1="203.50" x2="351.40" y2="205.10" stroke="#000" stroke-width="0.9"/>
<line x1="353.30" y1="203.50" x2="353.30" y2="205.10" stroke="#000" stroke-width="0.9"/>
<line x1="355.20" y1="203.50" x2="355.20" y2="205.10" stroke="#000" stroke-width="0.9"/>
<line x1="357.10" y1="203.50" x2="357.10" y2="205.10" stroke="#000" stroke-width="0.9"/>
<line x1="359.00" y1="203.50" x2="359.00" y2="206.10" stroke="#000" stroke-width="0.9"/>
<line x1="360.90" y1="203.50" x2="360.90" y2="205.10" stroke="#000" stroke-width="0.9"/>
<line x1="362.80" y1="203.50" x2="362.80" y2="205.10" stroke="#000" stroke-width="0.9"/>
<line x1="364.70" y1="203.50" x2="364.70" y2="205.10" stroke="#000" stroke-width="0.9"/>
<line x1="366.60" y1="203.50" x2="366.60" y2="205.10" stroke="#000" stroke-width="0.9"/>
<line x1="368.50" y1="203.50" x2="368.50" y2="205.10" stroke="#000" stroke-width="0.9"/>
<line x1="370.40" y1="203.50" x2="370.40" y2="205.10" stroke="#000" stroke-width="0.9"/>
<line x1="372.30" y1="203.50" x2="372.30" y2="205.10" stroke="#000" stroke-width="0.9"/>
<line x1="374.20" y1="203.50" x2="374.20" y2="205.10" stroke="#000" stroke-width="0.9"/>
<line x1="376.10" y1="203.50" x2="376.10" y2="206.10" stroke="#000" stroke-width="0.9"/>
<line x1="378.00" y1="203.50" x2="378.00" y2="205.10" stroke="#000" stroke-width="0.9"/>
<line x1="379.90" y1="203.50" x2="379.90" y2="205.10" stroke="#000" stroke-width="0.9"/>
<line x1="381.80" y1="203.50" x2="381.80" y2="205.10" stroke="#000" stroke-width="0.9"/>
<line x1="383.70" y1="203.50" x2="383.70" y2="205.10" stroke="#000" stroke-width="0.9"/>
<line x1="385.60" y1="203.50" x2="385.60" y2="205.10" stroke="#000" stroke-width="0.9"/>
<line x1="387.50" y1="203.50" x2="387.50" y2="205.10" stroke="#000" stroke-width="0.9"/>
<line x1="389.40" y1="203.50" x2="389.40" y2="205.10" stroke="#000" stroke-width="0.9"/>
<line x1="391.30" y1="203.50" x2="391.30" y2="205.10" stroke="#000" stroke-width="0.9"/>
<line x1="393.20" y1="203.50" x2="393.20" y2="206.10" stroke="#000" stroke-width="0.9"/>
<line x1="395.10" y1="203.50" x2="395.10" y2="205.10" stroke="#000" stroke-width="0.9"/>
<line x1="397.00" y1="203.50" x2="397.00" y2="205.10" stroke="#000" stroke-width="0.9"/>
<line x1="398.90" y1="203.50" x2="398.90" y2="205.10" stroke="#000" stroke-width="0.9"/>
<line x1="400.80" y1="203.50" x2="400.80" y2="205.10" stroke="#000" stroke-width="0.9"/>
<line x1="402.70" y1="203.50" x2="402.70" y2="205.10" stroke="#000" stroke-width="0.9"/>
<line x1="404.60" y1="203.50" x2="404.60" y2="205.10" stroke="#000" stroke-width="0.9"/>
<line x1="406.50" y1="203.50" x2="406.50" y2="205.10" stroke="#000" stroke-width="0.9"/>
<line x1="408.40" y1="203.50" x2="408.40" y2="205.10" stroke="#000" stroke-width="0.9"/>
<line x1="410.30" y1="203.50" x2="410.30" y2="206.10" stroke="#000" stroke-width="0.9"/>
<text x="340.8" y="213.10" font-size="5.4" text-anchor="middle" font-weight="bold" stroke="#000" stroke-width="0.3">0</text>
<text x="350.4" y="213.10" font-size="5.4" text-anchor="middle" font-weight="bold" stroke="#000" stroke-width="0.3">10<tspan dy="-2.4" font-size="4.3">2</tspan></text>
<text x="369.59999999999997" y="213.10" font-size="5.4" text-anchor="middle" font-weight="bold" stroke="#000" stroke-width="0.3">10<tspan dy="-2.4" font-size="4.3">3</tspan></text>
<text x="388.7" y="213.10" font-size="5.4" text-anchor="middle" font-weight="bold" stroke="#000" stroke-width="0.3">10<tspan dy="-2.4" font-size="4.3">4</tspan></text>
<text x="407.2" y="213.10" font-size="5.4" text-anchor="middle" font-weight="bold" stroke="#000" stroke-width="0.3">10<tspan dy="-2.4" font-size="4.3">5</tspan></text>
<polygon points="452.0,203.7 454.0,170.0 456.6,138.0 458.5,134.0 460.0,140.0 462.0,146.0 463.5,157.0 464.8,165.0 467.5,169.5 470.0,166.0 473.5,161.0 476.0,163.5 477.8,171.0 479.5,182.0 481.5,192.5 484.0,199.5 487.0,203.7" fill="#a5a5a5"/>
<polygon points="418.0,203.7 418.0,201.0 421.0,200.3 424.0,201.0 427.0,199.6 430.0,200.6 433.0,199.5 437.0,199.4 439.8,198.0 441.4,192.5 442.8,189.5 444.4,184.5 445.9,176.0 447.3,167.5 448.9,157.0 450.3,146.0 451.3,137.0 452.2,134.5 453.0,138.0 454.2,131.0 455.5,134.0 456.6,129.5 457.3,140.0 457.9,155.0 458.6,175.0 459.5,189.0 460.6,196.0 462.5,201.0 465.0,203.7" fill="#000"/>
<polyline points="418.5,200.8 421.0,200.0 424.0,200.7 427.0,199.3 430.0,200.3 433.0,199.2 437.0,199.1 439.8,197.7 441.4,192.2 442.8,189.2 444.4,184.2 445.9,175.7 447.3,167.2 448.9,156.7 450.3,145.7 451.3,136.7 452.2,134.2 453.0,137.7 454.2,130.7 455.5,133.7 456.6,129.3 457.8,133.0 458.8,130.0 460.0,134.0 461.0,129.6 462.0,140.0 463.2,152.0 464.5,162.0 466.0,168.0 467.2,170.0 468.2,163.0 469.0,157.5 469.8,161.0 470.6,164.0 471.4,156.0 472.2,146.0 473.0,139.0 473.8,147.0 474.6,156.0 475.4,148.0 476.4,139.0 477.2,146.0 478.0,158.0 479.3,171.0 480.8,181.0 482.4,189.0 484.3,194.5 486.4,199.0 489.4,202.8 497.0,203.0" fill="none" stroke="#000" stroke-width="1.8" stroke-linejoin="round"/>
<rect x="417.7" y="125" width="79.80000000000001" height="78.69999999999999" fill="none" stroke="#000" stroke-width="1.8"/>
<line x1="419.70" y1="203.70" x2="419.70" y2="205.30" stroke="#000" stroke-width="0.9"/>
<line x1="421.62" y1="203.70" x2="421.62" y2="205.30" stroke="#000" stroke-width="0.9"/>
<line x1="423.54" y1="203.70" x2="423.54" y2="205.30" stroke="#000" stroke-width="0.9"/>
<line x1="425.46" y1="203.70" x2="425.46" y2="205.30" stroke="#000" stroke-width="0.9"/>
<line x1="427.38" y1="203.70" x2="427.38" y2="206.30" stroke="#000" stroke-width="0.9"/>
<line x1="429.30" y1="203.70" x2="429.30" y2="205.30" stroke="#000" stroke-width="0.9"/>
<line x1="431.22" y1="203.70" x2="431.22" y2="205.30" stroke="#000" stroke-width="0.9"/>
<line x1="433.14" y1="203.70" x2="433.14" y2="205.30" stroke="#000" stroke-width="0.9"/>
<line x1="435.06" y1="203.70" x2="435.06" y2="205.30" stroke="#000" stroke-width="0.9"/>
<line x1="436.98" y1="203.70" x2="436.98" y2="205.30" stroke="#000" stroke-width="0.9"/>
<line x1="438.90" y1="203.70" x2="438.90" y2="205.30" stroke="#000" stroke-width="0.9"/>
<line x1="440.82" y1="203.70" x2="440.82" y2="205.30" stroke="#000" stroke-width="0.9"/>
<line x1="442.74" y1="203.70" x2="442.74" y2="205.30" stroke="#000" stroke-width="0.9"/>
<line x1="444.66" y1="203.70" x2="444.66" y2="206.30" stroke="#000" stroke-width="0.9"/>
<line x1="446.58" y1="203.70" x2="446.58" y2="205.30" stroke="#000" stroke-width="0.9"/>
<line x1="448.50" y1="203.70" x2="448.50" y2="205.30" stroke="#000" stroke-width="0.9"/>
<line x1="450.42" y1="203.70" x2="450.42" y2="205.30" stroke="#000" stroke-width="0.9"/>
<line x1="452.34" y1="203.70" x2="452.34" y2="205.30" stroke="#000" stroke-width="0.9"/>
<line x1="454.26" y1="203.70" x2="454.26" y2="205.30" stroke="#000" stroke-width="0.9"/>
<line x1="456.18" y1="203.70" x2="456.18" y2="205.30" stroke="#000" stroke-width="0.9"/>
<line x1="458.10" y1="203.70" x2="458.10" y2="205.30" stroke="#000" stroke-width="0.9"/>
<line x1="460.02" y1="203.70" x2="460.02" y2="205.30" stroke="#000" stroke-width="0.9"/>
<line x1="461.94" y1="203.70" x2="461.94" y2="206.30" stroke="#000" stroke-width="0.9"/>
<line x1="463.86" y1="203.70" x2="463.86" y2="205.30" stroke="#000" stroke-width="0.9"/>
<line x1="465.78" y1="203.70" x2="465.78" y2="205.30" stroke="#000" stroke-width="0.9"/>
<line x1="467.70" y1="203.70" x2="467.70" y2="205.30" stroke="#000" stroke-width="0.9"/>
<line x1="469.62" y1="203.70" x2="469.62" y2="205.30" stroke="#000" stroke-width="0.9"/>
<line x1="471.54" y1="203.70" x2="471.54" y2="205.30" stroke="#000" stroke-width="0.9"/>
<line x1="473.46" y1="203.70" x2="473.46" y2="205.30" stroke="#000" stroke-width="0.9"/>
<line x1="475.38" y1="203.70" x2="475.38" y2="205.30" stroke="#000" stroke-width="0.9"/>
<line x1="477.30" y1="203.70" x2="477.30" y2="205.30" stroke="#000" stroke-width="0.9"/>
<line x1="479.22" y1="203.70" x2="479.22" y2="206.30" stroke="#000" stroke-width="0.9"/>
<line x1="481.14" y1="203.70" x2="481.14" y2="205.30" stroke="#000" stroke-width="0.9"/>
<line x1="483.06" y1="203.70" x2="483.06" y2="205.30" stroke="#000" stroke-width="0.9"/>
<line x1="484.98" y1="203.70" x2="484.98" y2="205.30" stroke="#000" stroke-width="0.9"/>
<line x1="486.90" y1="203.70" x2="486.90" y2="205.30" stroke="#000" stroke-width="0.9"/>
<line x1="488.82" y1="203.70" x2="488.82" y2="205.30" stroke="#000" stroke-width="0.9"/>
<line x1="490.74" y1="203.70" x2="490.74" y2="205.30" stroke="#000" stroke-width="0.9"/>
<line x1="492.66" y1="203.70" x2="492.66" y2="205.30" stroke="#000" stroke-width="0.9"/>
<line x1="494.58" y1="203.70" x2="494.58" y2="205.30" stroke="#000" stroke-width="0.9"/>
<line x1="496.50" y1="203.70" x2="496.50" y2="206.30" stroke="#000" stroke-width="0.9"/>
<text x="425.2" y="213.30" font-size="5.4" text-anchor="middle" font-weight="bold" stroke="#000" stroke-width="0.3">0</text>
<text x="435.59999999999997" y="213.30" font-size="5.4" text-anchor="middle" font-weight="bold" stroke="#000" stroke-width="0.3">10<tspan dy="-2.4" font-size="4.3">2</tspan></text>
<text x="454.9" y="213.30" font-size="5.4" text-anchor="middle" font-weight="bold" stroke="#000" stroke-width="0.3">10<tspan dy="-2.4" font-size="4.3">3</tspan></text>
<text x="473.5" y="213.30" font-size="5.4" text-anchor="middle" font-weight="bold" stroke="#000" stroke-width="0.3">10<tspan dy="-2.4" font-size="4.3">4</tspan></text>
<text x="492.29999999999995" y="213.30" font-size="5.4" text-anchor="middle" font-weight="bold" stroke="#000" stroke-width="0.3">10<tspan dy="-2.4" font-size="4.3">5</tspan></text>
<text transform="translate(327.5 71.6) rotate(-90) scale(1 1.09)" font-size="13.2" text-anchor="middle" font-weight="normal" stroke="#000" stroke-width="0.7">Liver</text>
<text transform="translate(327.5 167.2) rotate(-90) scale(1 1.08)" font-size="13.5" text-anchor="middle" font-weight="normal" stroke="#000" stroke-width="0.7">Spleen</text>
<line x1="332.70" y1="224.00" x2="363.80" y2="224.00" stroke="#000" stroke-width="2.2"/>
<polygon points="370.8,224 360.3,217.8 362.8,224 360.3,230.2" fill="#000" stroke="#000" stroke-width="0.6" stroke-linejoin="round"/>
<line x1="418.90" y1="224.00" x2="450.00" y2="224.00" stroke="#000" stroke-width="2.2"/>
<polygon points="457,224 446.5,217.8 449,224 446.5,230.2" fill="#000" stroke="#000" stroke-width="0.6" stroke-linejoin="round"/>
<text x="372.2" y="226.9" font-size="13.0" textLength="19.70" lengthAdjust="spacingAndGlyphs" stroke="#000" stroke-width="0.65">IL4</text>
<text x="460.9" y="226.9" font-size="13.0" textLength="28.60" lengthAdjust="spacingAndGlyphs" stroke="#000" stroke-width="0.65">IFNγ</text>
<rect x="45.00" y="473.25" width="12.80" height="14.75" fill="#000"/>
<line x1="51.00" y1="473.25" x2="51.00" y2="471.25" stroke="#000" stroke-width="1.9"/>
<line x1="49.50" y1="471.25" x2="52.50" y2="471.25" stroke="#000" stroke-width="2.2" stroke-linecap="round"/>
<rect x="56.60" y="427.75" width="11.30" height="60.25" fill="#cfcfcf" stroke="#000" stroke-width="2.0"/>
<line x1="62.00" y1="415.50" x2="62.00" y2="438.00" stroke="#000" stroke-width="1.9"/>
<line x1="59.50" y1="415.50" x2="64.50" y2="415.50" stroke="#000" stroke-width="2.2" stroke-linecap="round"/>
<line x1="59.50" y1="438.00" x2="64.50" y2="438.00" stroke="#000" stroke-width="2.2" stroke-linecap="round"/>
<rect x="85.00" y="443.75" width="12.80" height="44.25" fill="#000"/>
<line x1="90.75" y1="443.75" x2="90.75" y2="433.75" stroke="#000" stroke-width="1.9"/>
<line x1="88.75" y1="433.75" x2="92.75" y2="433.75" stroke="#000" stroke-width="2.2" stroke-linecap="round"/>
<rect x="97.50" y="382.25" width="10.40" height="105.75" fill="#cfcfcf" stroke="#000" stroke-width="2.0"/>
<line x1="103.00" y1="374.50" x2="103.00" y2="388.00" stroke="#000" stroke-width="1.9"/>
<line x1="100.50" y1="374.50" x2="105.50" y2="374.50" stroke="#000" stroke-width="2.2" stroke-linecap="round"/>
<line x1="100.50" y1="388.00" x2="105.50" y2="388.00" stroke="#000" stroke-width="2.2" stroke-linecap="round"/>
<line x1="34.00" y1="359.00" x2="117.40" y2="359.00" stroke="#000" stroke-width="2.0"/>
<line x1="34.00" y1="488.00" x2="117.40" y2="488.00" stroke="#000" stroke-width="2.0"/>
<line x1="37.30" y1="359.00" x2="37.30" y2="488.00" stroke="#000" stroke-width="2.0"/>
<line x1="116.40" y1="359.00" x2="116.40" y2="488.00" stroke="#000" stroke-width="2.0"/>
<line x1="76.30" y1="488.00" x2="76.30" y2="490.00" stroke="#000" stroke-width="1.2"/>
<text transform="translate(32.6 363.2)" font-size="12.2" text-anchor="end" font-weight="normal" stroke="#000" stroke-width="0.75">45</text>
<line x1="33.30" y1="359.00" x2="37.30" y2="359.00" stroke="#000" stroke-width="1.9"/>
<text transform="translate(32.6 377.5333333333333)" font-size="12.2" text-anchor="end" font-weight="normal" stroke="#000" stroke-width="0.75">40</text>
<line x1="33.30" y1="373.33" x2="37.30" y2="373.33" stroke="#000" stroke-width="1.9"/>
<text transform="translate(32.6 391.8666666666667)" font-size="12.2" text-anchor="end" font-weight="normal" stroke="#000" stroke-width="0.75">35</text>
<line x1="33.30" y1="387.67" x2="37.30" y2="387.67" stroke="#000" stroke-width="1.9"/>
<text transform="translate(32.6 406.2)" font-size="12.2" text-anchor="end" font-weight="normal" stroke="#000" stroke-width="0.75">30</text>
<line x1="33.30" y1="402.00" x2="37.30" y2="402.00" stroke="#000" stroke-width="1.9"/>
<text transform="translate(32.6 420.5333333333333)" font-size="12.2" text-anchor="end" font-weight="normal" stroke="#000" stroke-width="0.75">25</text>
<line x1="33.30" y1="416.33" x2="37.30" y2="416.33" stroke="#000" stroke-width="1.9"/>
<text transform="translate(32.6 434.8666666666667)" font-size="12.2" text-anchor="end" font-weight="normal" stroke="#000" stroke-width="0.75">20</text>
<line x1="33.30" y1="430.67" x2="37.30" y2="430.67" stroke="#000" stroke-width="1.9"/>
<text transform="translate(32.6 449.2)" font-size="12.2" text-anchor="end" font-weight="normal" stroke="#000" stroke-width="0.75">15</text>
<line x1="33.30" y1="445.00" x2="37.30" y2="445.00" stroke="#000" stroke-width="1.9"/>
<text transform="translate(32.6 463.5333333333333)" font-size="12.2" text-anchor="end" font-weight="normal" stroke="#000" stroke-width="0.75">10</text>
<line x1="33.30" y1="459.33" x2="37.30" y2="459.33" stroke="#000" stroke-width="1.9"/>
<text transform="translate(32.6 477.8666666666667)" font-size="12.2" text-anchor="end" font-weight="normal" stroke="#000" stroke-width="0.75">5</text>
<line x1="33.30" y1="473.67" x2="37.30" y2="473.67" stroke="#000" stroke-width="1.9"/>
<text transform="translate(32.6 492.2)" font-size="12.2" text-anchor="end" font-weight="normal" stroke="#000" stroke-width="0.75">0</text>
<line x1="33.30" y1="488.00" x2="37.30" y2="488.00" stroke="#000" stroke-width="1.9"/>
<text x="73.6" y="380" font-size="13.8" textLength="19.90" lengthAdjust="spacingAndGlyphs" stroke="#000" stroke-width="0.75">IL4</text>
<text transform="translate(16.1 430.6) rotate(-90) scale(1 1.06)" font-size="12.85" text-anchor="middle" font-weight="normal" stroke="#000" stroke-width="0.65">% positive NKT cells</text>
<rect x="144.25" y="470.00" width="12.80" height="18.00" fill="#000"/>
<line x1="150.50" y1="470.00" x2="150.50" y2="465.00" stroke="#000" stroke-width="1.9"/>
<line x1="149.00" y1="465.00" x2="152.00" y2="465.00" stroke="#000" stroke-width="2.2" stroke-linecap="round"/>
<rect x="156.30" y="402.25" width="11.60" height="85.75" fill="#cfcfcf" stroke="#000" stroke-width="2.0"/>
<line x1="162.00" y1="373.00" x2="162.00" y2="430.50" stroke="#000" stroke-width="1.9"/>
<line x1="160.00" y1="373.00" x2="164.00" y2="373.00" stroke="#000" stroke-width="2.2" stroke-linecap="round"/>
<line x1="160.00" y1="430.50" x2="164.00" y2="430.50" stroke="#000" stroke-width="2.2" stroke-linecap="round"/>
<rect x="184.25" y="470.75" width="12.80" height="17.25" fill="#000"/>
<line x1="190.50" y1="470.75" x2="190.50" y2="466.25" stroke="#000" stroke-width="1.9"/>
<line x1="189.00" y1="466.25" x2="192.00" y2="466.25" stroke="#000" stroke-width="2.2" stroke-linecap="round"/>
<rect x="196.60" y="416.00" width="11.30" height="72.00" fill="#cfcfcf" stroke="#000" stroke-width="2.0"/>
<line x1="202.75" y1="410.75" x2="202.75" y2="420.00" stroke="#000" stroke-width="1.9"/>
<line x1="200.75" y1="410.75" x2="204.75" y2="410.75" stroke="#000" stroke-width="2.2" stroke-linecap="round"/>
<line x1="200.75" y1="420.00" x2="204.75" y2="420.00" stroke="#000" stroke-width="2.2" stroke-linecap="round"/>
<line x1="132.70" y1="358.00" x2="218.10" y2="358.00" stroke="#000" stroke-width="2.0"/>
<line x1="132.70" y1="488.00" x2="218.10" y2="488.00" stroke="#000" stroke-width="2.0"/>
<line x1="135.90" y1="358.00" x2="135.90" y2="491.00" stroke="#000" stroke-width="2.0"/>
<line x1="217.50" y1="358.00" x2="217.50" y2="491.00" stroke="#000" stroke-width="2.0"/>
<line x1="176.75" y1="488.00" x2="176.75" y2="491.00" stroke="#000" stroke-width="1.2"/>
<text transform="translate(134.9 361.4) scale(1.03 1)" font-size="11.650485436893204" text-anchor="end" font-weight="normal" stroke="#000" stroke-width="0.75">90</text>
<line x1="132.90" y1="358.00" x2="135.90" y2="358.00" stroke="#000" stroke-width="1.9"/>
<text transform="translate(134.9 375.84444444444443) scale(1.03 1)" font-size="11.650485436893204" text-anchor="end" font-weight="normal" stroke="#000" stroke-width="0.75">80</text>
<line x1="132.90" y1="372.44" x2="135.90" y2="372.44" stroke="#000" stroke-width="1.9"/>
<text transform="translate(134.9 390.2888888888889) scale(1.03 1)" font-size="11.650485436893204" text-anchor="end" font-weight="normal" stroke="#000" stroke-width="0.75">70</text>
<line x1="132.90" y1="386.89" x2="135.90" y2="386.89" stroke="#000" stroke-width="1.9"/>
<text transform="translate(134.9 404.7333333333333) scale(1.03 1)" font-size="11.650485436893204" text-anchor="end" font-weight="normal" stroke="#000" stroke-width="0.75">60</text>
<line x1="132.90" y1="401.33" x2="135.90" y2="401.33" stroke="#000" stroke-width="1.9"/>
<text transform="translate(134.9 419.17777777777775) scale(1.03 1)" font-size="11.650485436893204" text-anchor="end" font-weight="normal" stroke="#000" stroke-width="0.75">50</text>
<line x1="132.90" y1="415.78" x2="135.90" y2="415.78" stroke="#000" stroke-width="1.9"/>
<text transform="translate(134.9 433.6222222222222) scale(1.03 1)" font-size="11.650485436893204" text-anchor="end" font-weight="normal" stroke="#000" stroke-width="0.75">40</text>
<line x1="132.90" y1="430.22" x2="135.90" y2="430.22" stroke="#000" stroke-width="1.9"/>
<text transform="translate(134.9 448.06666666666666) scale(1.03 1)" font-size="11.650485436893204" text-anchor="end" font-weight="normal" stroke="#000" stroke-width="0.75">30</text>
<line x1="132.90" y1="444.67" x2="135.90" y2="444.67" stroke="#000" stroke-width="1.9"/>
<text transform="translate(134.9 462.51111111111106) scale(1.03 1)" font-size="11.650485436893204" text-anchor="end" font-weight="normal" stroke="#000" stroke-width="0.75">20</text>
<line x1="132.90" y1="459.11" x2="135.90" y2="459.11" stroke="#000" stroke-width="1.9"/>
<text transform="translate(134.9 476.9555555555555) scale(1.03 1)" font-size="11.650485436893204" text-anchor="end" font-weight="normal" stroke="#000" stroke-width="0.75">10</text>
<line x1="132.90" y1="473.56" x2="135.90" y2="473.56" stroke="#000" stroke-width="1.9"/>
<text transform="translate(134.9 491.4) scale(1.03 1)" font-size="11.650485436893204" text-anchor="end" font-weight="normal" stroke="#000" stroke-width="0.75">0</text>
<line x1="132.90" y1="488.00" x2="135.90" y2="488.00" stroke="#000" stroke-width="1.9"/>
<text x="180.4" y="380" font-size="13.8" textLength="19.60" lengthAdjust="spacingAndGlyphs" stroke="#000" stroke-width="0.75">IL2</text>
<rect x="277.00" y="481.25" width="15.05" height="6.45" fill="#000"/>
<line x1="284.00" y1="481.25" x2="284.00" y2="480.30" stroke="#000" stroke-width="1.9"/>
<line x1="282.50" y1="480.30" x2="285.50" y2="480.30" stroke="#000" stroke-width="2.2" stroke-linecap="round"/>
<rect x="292.25" y="484.50" width="9.25" height="3.20" fill="#cfcfcf" stroke="#000" stroke-width="2.0"/>
<line x1="297.00" y1="480.50" x2="297.00" y2="485.80" stroke="#000" stroke-width="1.9"/>
<line x1="295.50" y1="480.50" x2="298.50" y2="480.50" stroke="#000" stroke-width="2.2" stroke-linecap="round"/>
<line x1="295.50" y1="485.80" x2="298.50" y2="485.80" stroke="#000" stroke-width="2.2" stroke-linecap="round"/>
<rect x="318.75" y="484.90" width="14.55" height="2.80" fill="#000"/>
<rect x="333.00" y="485.70" width="11.00" height="2.00" fill="#cfcfcf" stroke="#000" stroke-width="2.0"/>
<rect x="361.25" y="483.75" width="13.30" height="3.95" fill="#000"/>
<line x1="367.50" y1="483.75" x2="367.50" y2="482.60" stroke="#000" stroke-width="1.9"/>
<line x1="366.00" y1="482.60" x2="369.00" y2="482.60" stroke="#000" stroke-width="2.2" stroke-linecap="round"/>
<rect x="374.30" y="435.50" width="12.00" height="52.20" fill="#cfcfcf" stroke="#000" stroke-width="2.0"/>
<line x1="380.50" y1="416.75" x2="380.50" y2="453.00" stroke="#000" stroke-width="1.9"/>
<line x1="378.25" y1="416.75" x2="382.75" y2="416.75" stroke="#000" stroke-width="2.2" stroke-linecap="round"/>
<line x1="378.25" y1="453.00" x2="382.75" y2="453.00" stroke="#000" stroke-width="2.2" stroke-linecap="round"/>
<rect x="403.75" y="486.40" width="12.05" height="1.30" fill="#000"/>
<rect x="415.60" y="458.50" width="12.40" height="29.20" fill="#cfcfcf" stroke="#000" stroke-width="2.0"/>
<line x1="422.00" y1="449.00" x2="422.00" y2="467.00" stroke="#000" stroke-width="1.9"/>
<line x1="419.75" y1="449.00" x2="424.25" y2="449.00" stroke="#000" stroke-width="2.2" stroke-linecap="round"/>
<line x1="419.75" y1="467.00" x2="424.25" y2="467.00" stroke="#000" stroke-width="2.2" stroke-linecap="round"/>
<rect x="444.80" y="479.80" width="13.30" height="7.90" fill="#000"/>
<line x1="451.00" y1="479.80" x2="451.00" y2="477.80" stroke="#000" stroke-width="1.9"/>
<line x1="449.50" y1="477.80" x2="452.50" y2="477.80" stroke="#000" stroke-width="2.2" stroke-linecap="round"/>
<rect x="457.10" y="405.50" width="11.70" height="82.20" fill="#cfcfcf" stroke="#000" stroke-width="2.0"/>
<line x1="463.00" y1="375.30" x2="463.00" y2="434.20" stroke="#000" stroke-width="1.9"/>
<line x1="461.25" y1="375.30" x2="464.75" y2="375.30" stroke="#000" stroke-width="2.2" stroke-linecap="round"/>
<line x1="461.25" y1="434.20" x2="464.75" y2="434.20" stroke="#000" stroke-width="2.2" stroke-linecap="round"/>
<rect x="485.50" y="485.00" width="13.30" height="2.70" fill="#000"/>
<rect x="498.30" y="433.30" width="11.80" height="54.40" fill="#cfcfcf" stroke="#000" stroke-width="2.0"/>
<line x1="504.30" y1="422.00" x2="504.30" y2="443.30" stroke="#000" stroke-width="1.9"/>
<line x1="502.05" y1="422.00" x2="506.55" y2="422.00" stroke="#000" stroke-width="2.2" stroke-linecap="round"/>
<line x1="502.05" y1="443.30" x2="506.55" y2="443.30" stroke="#000" stroke-width="2.2" stroke-linecap="round"/>
<line x1="264.30" y1="364.10" x2="519.60" y2="364.10" stroke="#000" stroke-width="1.7"/>
<line x1="264.30" y1="487.70" x2="519.60" y2="487.70" stroke="#000" stroke-width="1.7"/>
<line x1="268.90" y1="363.80" x2="268.90" y2="487.70" stroke="#000" stroke-width="1.7"/>
<line x1="353.00" y1="363.80" x2="353.00" y2="490.20" stroke="#000" stroke-width="1.6"/>
<line x1="436.30" y1="363.80" x2="436.30" y2="490.20" stroke="#000" stroke-width="2"/>
<line x1="518.40" y1="363.80" x2="518.40" y2="487.70" stroke="#000" stroke-width="2.4"/>
<line x1="311.00" y1="487.70" x2="311.00" y2="489.90" stroke="#000" stroke-width="1.1"/>
<line x1="395.00" y1="487.70" x2="395.00" y2="489.90" stroke="#000" stroke-width="1.1"/>
<line x1="477.50" y1="487.70" x2="477.50" y2="489.90" stroke="#000" stroke-width="1.1"/>
<line x1="265.30" y1="376.19" x2="268.90" y2="376.19" stroke="#000" stroke-width="1.4"/>
<line x1="353.00" y1="376.19" x2="354.80" y2="376.19" stroke="#000" stroke-width="1"/>
<line x1="433.90" y1="376.19" x2="436.30" y2="376.19" stroke="#000" stroke-width="1"/>
<line x1="264.30" y1="388.58" x2="268.90" y2="388.58" stroke="#000" stroke-width="1.4"/>
<line x1="353.00" y1="388.58" x2="354.80" y2="388.58" stroke="#000" stroke-width="1"/>
<line x1="433.90" y1="388.58" x2="436.30" y2="388.58" stroke="#000" stroke-width="1"/>
<line x1="265.30" y1="400.97" x2="268.90" y2="400.97" stroke="#000" stroke-width="1.4"/>
<line x1="353.00" y1="400.97" x2="354.80" y2="400.97" stroke="#000" stroke-width="1"/>
<line x1="433.90" y1="400.97" x2="436.30" y2="400.97" stroke="#000" stroke-width="1"/>
<line x1="264.30" y1="413.36" x2="268.90" y2="413.36" stroke="#000" stroke-width="1.4"/>
<line x1="353.00" y1="413.36" x2="354.80" y2="413.36" stroke="#000" stroke-width="1"/>
<line x1="433.90" y1="413.36" x2="436.30" y2="413.36" stroke="#000" stroke-width="1"/>
<line x1="265.30" y1="425.75" x2="268.90" y2="425.75" stroke="#000" stroke-width="1.4"/>
<line x1="353.00" y1="425.75" x2="354.80" y2="425.75" stroke="#000" stroke-width="1"/>
<line x1="433.90" y1="425.75" x2="436.30" y2="425.75" stroke="#000" stroke-width="1"/>
<line x1="264.30" y1="438.14" x2="268.90" y2="438.14" stroke="#000" stroke-width="1.4"/>
<line x1="353.00" y1="438.14" x2="354.80" y2="438.14" stroke="#000" stroke-width="1"/>
<line x1="433.90" y1="438.14" x2="436.30" y2="438.14" stroke="#000" stroke-width="1"/>
<line x1="265.30" y1="450.53" x2="268.90" y2="450.53" stroke="#000" stroke-width="1.4"/>
<line x1="353.00" y1="450.53" x2="354.80" y2="450.53" stroke="#000" stroke-width="1"/>
<line x1="433.90" y1="450.53" x2="436.30" y2="450.53" stroke="#000" stroke-width="1"/>
<line x1="264.30" y1="462.92" x2="268.90" y2="462.92" stroke="#000" stroke-width="1.4"/>
<line x1="353.00" y1="462.92" x2="354.80" y2="462.92" stroke="#000" stroke-width="1"/>
<line x1="433.90" y1="462.92" x2="436.30" y2="462.92" stroke="#000" stroke-width="1"/>
<line x1="265.30" y1="475.31" x2="268.90" y2="475.31" stroke="#000" stroke-width="1.4"/>
<line x1="353.00" y1="475.31" x2="354.80" y2="475.31" stroke="#000" stroke-width="1"/>
<line x1="433.90" y1="475.31" x2="436.30" y2="475.31" stroke="#000" stroke-width="1"/>
<text transform="translate(265.4 367.5) scale(1.07 1)" font-size="11.401869158878503" text-anchor="end" font-weight="normal" stroke="#000" stroke-width="0.75">50</text>
<text transform="translate(265.4 392.28) scale(1.07 1)" font-size="11.401869158878503" text-anchor="end" font-weight="normal" stroke="#000" stroke-width="0.75">40</text>
<text transform="translate(265.4 417.06) scale(1.07 1)" font-size="11.401869158878503" text-anchor="end" font-weight="normal" stroke="#000" stroke-width="0.75">30</text>
<text transform="translate(265.4 441.84) scale(1.07 1)" font-size="11.401869158878503" text-anchor="end" font-weight="normal" stroke="#000" stroke-width="0.75">20</text>
<text transform="translate(265.4 466.61999999999995) scale(1.07 1)" font-size="11.401869158878503" text-anchor="end" font-weight="normal" stroke="#000" stroke-width="0.75">10</text>
<text transform="translate(265.4 491.4) scale(1.07 1)" font-size="11.401869158878503" text-anchor="end" font-weight="normal" stroke="#000" stroke-width="0.75">0</text>
<text x="318.0" y="380" font-size="12.3" textLength="28.70" lengthAdjust="spacingAndGlyphs" stroke="#000" stroke-width="0.55">IFNγ</text>
<text x="408.5" y="380" font-size="12.3" textLength="20.00" lengthAdjust="spacingAndGlyphs" stroke="#000" stroke-width="0.55">IL4</text>
<text x="494.3" y="379.8" font-size="12.3" textLength="19.10" lengthAdjust="spacingAndGlyphs" stroke="#000" stroke-width="0.55">IL2</text>
<text transform="translate(288.2 501.6) scale(1.07 1)" font-size="12.0" text-anchor="middle" font-weight="normal" stroke="#000" stroke-width="0.55">Li</text>
<text transform="translate(331.3 501.6) scale(1.07 1)" font-size="12.0" text-anchor="middle" font-weight="normal" stroke="#000" stroke-width="0.55">Spl</text>
<text transform="translate(373.2 501.6) scale(1.07 1)" font-size="12.0" text-anchor="middle" font-weight="normal" stroke="#000" stroke-width="0.55">Li</text>
<text transform="translate(416.3 501.6) scale(1.07 1)" font-size="12.0" text-anchor="middle" font-weight="normal" stroke="#000" stroke-width="0.55">Spl</text>
<text transform="translate(458.2 501.6) scale(1.07 1)" font-size="12.0" text-anchor="middle" font-weight="normal" stroke="#000" stroke-width="0.55">Li</text>
<text transform="translate(497.5 501.6) scale(1.07 1)" font-size="12.0" text-anchor="middle" font-weight="normal" stroke="#000" stroke-width="0.55">Spl</text>
<text transform="translate(251.2 432) rotate(-90) scale(1 1.06)" font-size="12.4" text-anchor="middle" font-weight="normal" stroke="#000" stroke-width="0.65">% positive T cells</text>
</svg>
</body>
</html>
